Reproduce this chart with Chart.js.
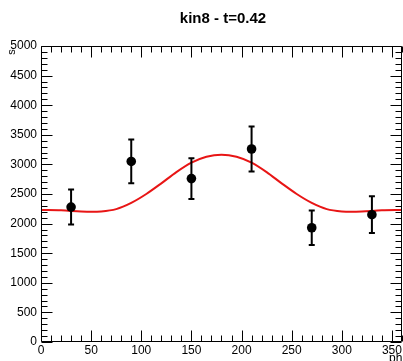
<!DOCTYPE html>
<html><head><meta charset="utf-8">
<script src="https://cdn.jsdelivr.net/npm/chart.js@4.4.1/dist/chart.umd.min.js"></script>
<style>html,body{margin:0;padding:0;background:#fff;}#wrap{width:403px;height:361px;position:relative;}</style>
</head><body><div id="wrap"><canvas id="c" width="403" height="361"></canvas></div>
<script>
const title = 'kin8 - t=0.42';
const xTitle = 'phi';
const yTitle = 's';
const phi = [30, 90, 150, 210, 270, 330];
const counts = [2280, 3050, 2760, 3260, 1930, 2150];
const errors = [295, 370, 345, 380, 290, 310];
const fitPhi = [0, 20, 40, 50, 60, 75, 90, 105, 120, 135, 150, 165, 180, 195, 210, 225, 240, 255, 270, 285, 300, 310, 320, 340, 360];
const fitVal = [2230, 2225, 2205, 2200, 2205, 2245, 2350, 2500, 2680, 2870, 3030, 3130, 3165, 3130, 3030, 2870, 2680, 2500, 2350, 2245, 2205, 2200, 2205, 2225, 2230];

const FONT = '"Liberation Sans", Arial, sans-serif';

const framePlugin = {
  id: 'frame',
  afterDatasetsDraw(chart) {
    const ctx = chart.ctx, a = chart.chartArea;
    const xs = chart.scales.x, ys = chart.scales.y;
    ctx.save();
    ctx.strokeStyle = '#000'; ctx.lineWidth = 2;
    for (let i = 0; i < phi.length; i++) {
      const px = xs.getPixelForValue(phi[i]);
      const yt = ys.getPixelForValue(counts[i] + errors[i]);
      const yb = ys.getPixelForValue(counts[i] - errors[i]);
      ctx.beginPath();
      ctx.moveTo(px, yt); ctx.lineTo(px, yb);
      ctx.moveTo(px - 3, yt); ctx.lineTo(px + 3, yt);
      ctx.moveTo(px - 3, yb); ctx.lineTo(px + 3, yb);
      ctx.stroke();
    }
    ctx.fillStyle = '#000';
    for (let i = 0; i < phi.length; i++) {
      ctx.beginPath();
      ctx.arc(xs.getPixelForValue(phi[i]), ys.getPixelForValue(counts[i]), 4.8, 0, Math.PI * 2);
      ctx.fill();
    }
    ctx.lineWidth = 1;
    ctx.strokeStyle = '#000';
    const L = Math.round(a.left) + 0.5, R = Math.round(a.right) - 0.5, T = Math.round(a.top) + 0.5, B = Math.round(a.bottom) - 0.5;
    ctx.beginPath();
    ctx.moveTo(L, T); ctx.lineTo(R, T); ctx.lineTo(R, B); ctx.lineTo(L, B); ctx.closePath();
    ctx.stroke();
    const maj = 11, min = 6;
    ctx.beginPath();
    for (let v = 0; v <= 360; v += 10) {
      const px = Math.round(xs.getPixelForValue(v)) + 0.5;
      const len = (v % 50 === 0) ? maj : min;
      ctx.moveTo(px, B); ctx.lineTo(px, B - len);
      ctx.moveTo(px, T); ctx.lineTo(px, T + len);
    }
    for (let v = 0; v <= 5000; v += 100) {
      const py = Math.round(ys.getPixelForValue(v)) + 0.5;
      const len = (v % 500 === 0) ? maj : min;
      ctx.moveTo(L, py); ctx.lineTo(L + len, py);
      ctx.moveTo(R, py); ctx.lineTo(R - len, py);
    }
    ctx.stroke();
    ctx.fillStyle = '#000';
    ctx.font = 'bold 15px ' + FONT;
    ctx.textAlign = 'center'; ctx.textBaseline = 'middle';
    ctx.fillText(title, 223, 19);
    ctx.font = '12px ' + FONT;
    ctx.textAlign = 'right'; ctx.textBaseline = 'alphabetic';
    ctx.fillText(xTitle, 405, 362);
    ctx.save();
    ctx.translate(15, 52);
    ctx.rotate(-Math.PI / 2);
    ctx.font = '11px ' + FONT;
    ctx.textAlign = 'center';
    ctx.fillText(yTitle, 0, 0);
    ctx.restore();
    ctx.restore();
  }
};

new Chart(document.getElementById('c'), {
  type: 'scatter',
  data: {
    datasets: [{
      type: 'line',
      data: fitPhi.map((p, i) => ({x: p, y: fitVal[i]})),
      borderColor: '#e81515',
      borderWidth: 2,
      pointRadius: 0,
      fill: false,
      cubicInterpolationMode: 'monotone'
    }]
  },
  options: {
    responsive: false,
    animation: false,
    events: [],
    layout: {padding: {left: 0, right: 1, top: 46, bottom: 0}},
    plugins: {legend: {display: false}, tooltip: {enabled: false}},
    scales: {
      x: {
        type: 'linear', min: 0, max: 360,
        grid: {display: false, drawTicks: false},
        border: {display: false},
        afterFit: s => { s.height = 19; },
        afterBuildTicks: s => { const t = []; for (let v = 0; v <= 350; v += 50) t.push({value: v}); s.ticks = t; },
        ticks: {color: '#000', font: {family: FONT, size: 12}, padding: 1, maxRotation: 0, autoSkip: false, callback: v => String(v)}
      },
      y: {
        type: 'linear', min: 0, max: 5000,
        grid: {display: false, drawTicks: false},
        border: {display: false},
        afterFit: s => { s.width = 41; },
        afterBuildTicks: s => { const t = []; for (let v = 0; v <= 5000; v += 500) t.push({value: v}); s.ticks = t; },
        ticks: {color: '#000', font: {family: FONT, size: 12}, padding: 4, autoSkip: false, callback: v => String(v)}
      }
    }
  },
  plugins: [framePlugin]
});
</script></body></html>
